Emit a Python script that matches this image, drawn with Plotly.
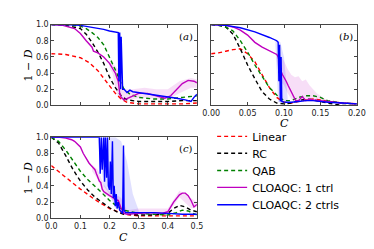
import plotly.graph_objects as go

# ---------------- panel (a) ----------------
a_x_lin = [0, 0.05, 0.1, 0.13, 0.16, 0.18, 0.2, 0.22, 0.24, 0.26, 0.3, 0.35, 0.4, 0.45, 0.5]
a_lin = [0.64, 0.63, 0.59, 0.53, 0.43, 0.34, 0.24, 0.15, 0.08, 0.04, 0.02, 0.02, 0.02, 0.02, 0.03]
a_x_rc = [0, 0.05, 0.1, 0.12, 0.14, 0.16, 0.18, 0.2, 0.22, 0.24, 0.26, 0.3, 0.35, 0.4, 0.45, 0.5]
a_rc = [1.0, 0.99, 0.95, 0.88, 0.78, 0.66, 0.52, 0.35, 0.22, 0.12, 0.07, 0.05, 0.05, 0.05, 0.06, 0.06]
a_x_qab = [0, 0.05, 0.1, 0.12, 0.14, 0.16, 0.18, 0.2, 0.22, 0.24, 0.25, 0.27, 0.3, 0.35, 0.4, 0.45, 0.5]
a_qab = [1.0, 1.0, 0.98, 0.95, 0.9, 0.84, 0.75, 0.6, 0.44, 0.27, 0.2, 0.14, 0.1, 0.08, 0.08, 0.1, 0.12]
a_x_c1 = [0, 0.04, 0.08, 0.1, 0.12, 0.14, 0.145, 0.16, 0.18, 0.2, 0.21, 0.22, 0.225, 0.23, 0.235, 0.24,
          0.25, 0.27, 0.3, 0.33, 0.36, 0.39, 0.41, 0.43, 0.45, 0.47, 0.49, 0.5]
a_c1 = [1.0, 0.99, 0.95, 0.89, 0.8, 0.72, 0.67, 0.65, 0.6, 0.52, 0.46, 0.4, 0.35, 0.3, 0.15, 0.1,
        0.07, 0.1, 0.15, 0.15, 0.12, 0.09, 0.12, 0.2, 0.27, 0.31, 0.3, 0.28]
a_x_c2 = [0, 0.05, 0.1, 0.15, 0.18, 0.2, 0.22, 0.23, 0.232, 0.235, 0.238, 0.24, 0.245, 0.25, 0.26, 0.27,
          0.28, 0.3, 0.33, 0.36, 0.4, 0.43, 0.46, 0.48, 0.49, 0.5]
a_c2 = [1.0, 1.0, 0.99, 0.96, 0.94, 0.92, 0.91, 0.9, 0.3, 0.9, 0.2, 0.85, 0.2, 0.2, 0.16, 0.19,
        0.17, 0.16, 0.14, 0.13, 0.11, 0.09, 0.07, 0.05, 0.1, 0.14]
a_x_b1 = [0.2, 0.21, 0.22, 0.23, 0.24, 0.25, 0.28, 0.32, 0.36, 0.4, 0.44, 0.48, 0.5]
a_b1_lo = [0.46, 0.4, 0.22, 0.1, 0.07, 0.06, 0.08, 0.1, 0.08, 0.07, 0.15, 0.22, 0.22]
a_b1_hi = [0.55, 0.52, 0.48, 0.45, 0.3, 0.2, 0.2, 0.22, 0.2, 0.2, 0.3, 0.34, 0.32]

# ---------------- panel (b) ----------------
b_x = [0, 0.01, 0.02, 0.03, 0.04, 0.05, 0.06, 0.07, 0.08, 0.09, 0.1, 0.11, 0.12, 0.13, 0.14, 0.15, 0.16, 0.18, 0.2]
b_lin = [0.64, 0.65, 0.67, 0.69, 0.70, 0.64, 0.54, 0.38, 0.22, 0.1, 0.04, 0.03, 0.05, 0.07, 0.08, 0.07, 0.05, 0.03, 0.02]
b_rc = [1.0, 0.99, 0.97, 0.88, 0.7, 0.5, 0.33, 0.17, 0.08, 0.03, 0.02, 0.03, 0.06, 0.08, 0.07, 0.05, 0.03, 0.0, 0.0]
b_qab = [1.0, 0.99, 0.97, 0.92, 0.8, 0.66, 0.5, 0.36, 0.22, 0.13, 0.06, 0.06, 0.1, 0.12, 0.12, 0.1, 0.06, 0.03, 0.02]
b_x_c1 = [0, 0.02, 0.03, 0.04, 0.05, 0.06, 0.07, 0.08, 0.09, 0.092, 0.094, 0.096, 0.098, 0.1, 0.103, 0.106,
          0.11, 0.113, 0.116, 0.12, 0.125, 0.13, 0.135, 0.14, 0.15, 0.16, 0.18, 0.2]
b_c1 = [1.0, 0.99, 0.97, 0.93, 0.87, 0.78, 0.72, 0.68, 0.63, 0.6, 0.5, 0.42, 0.38, 0.35, 0.3, 0.24,
        0.16, 0.1, 0.06, 0.06, 0.11, 0.06, 0.08, 0.07, 0.06, 0.05, 0.03, 0.02]
b_x_c2 = [0, 0.02, 0.04, 0.06, 0.08, 0.09, 0.092, 0.093, 0.094, 0.095, 0.096, 0.097, 0.1, 0.11, 0.12, 0.13,
          0.14, 0.15, 0.16, 0.18, 0.2]
b_c2 = [1.0, 0.99, 0.96, 0.91, 0.84, 0.8, 0.78, 0.3, 0.75, 0.05, 0.6, 0.05, 0.04, 0.04, 0.05, 0.06,
        0.06, 0.05, 0.04, 0.03, 0.02]
b_x_b1 = [0.09, 0.095, 0.1, 0.105, 0.11, 0.115, 0.12, 0.125, 0.13, 0.135, 0.14, 0.145, 0.15, 0.16]
b_b1_lo = [0.55, 0.3, 0.25, 0.15, 0.08, 0.05, 0.05, 0.05, 0.05, 0.05, 0.05, 0.04, 0.04, 0.03]
b_b1_hi = [0.65, 0.62, 0.55, 0.45, 0.38, 0.35, 0.36, 0.3, 0.32, 0.25, 0.2, 0.15, 0.12, 0.06]
b_x_b2 = [0.088, 0.092, 0.095, 0.1, 0.105]
b_b2_lo = [0.78, 0.04, 0.04, 0.03, 0.03]
b_b2_hi = [0.82, 0.8, 0.78, 0.6, 0.1]

# ---------------- panel (c) ----------------
c_x_lin = [0, 0.05, 0.1, 0.15, 0.2, 0.25, 0.3, 0.35, 0.4, 0.45, 0.5]
c_lin = [0.65, 0.5, 0.36, 0.23, 0.12, 0.05, 0.03, 0.03, 0.03, 0.03, 0.03]
c_x_rc = [0, 0.025, 0.05, 0.075, 0.1, 0.125, 0.15, 0.175, 0.2, 0.225, 0.25, 0.3, 0.35, 0.4, 0.42, 0.44, 0.46, 0.48, 0.5]
c_rc = [1.0, 0.93, 0.77, 0.6, 0.46, 0.35, 0.26, 0.19, 0.13, 0.08, 0.05, 0.04, 0.04, 0.06, 0.12, 0.16, 0.14, 0.1, 0.08]
c_x_qab = [0, 0.025, 0.05, 0.075, 0.1, 0.125, 0.15, 0.175, 0.2, 0.225, 0.25, 0.3, 0.35, 0.4, 0.43, 0.45, 0.47, 0.5]
c_qab = [1.0, 0.95, 0.84, 0.71, 0.58, 0.48, 0.4, 0.31, 0.22, 0.15, 0.1, 0.06, 0.05, 0.04, 0.07, 0.1, 0.09, 0.04]
c_x_c1 = [0, 0.03, 0.05, 0.07, 0.08, 0.09, 0.1, 0.11, 0.12, 0.13, 0.14, 0.15, 0.155, 0.16, 0.165, 0.17, 0.175,
          0.18, 0.19, 0.2, 0.21, 0.22, 0.23, 0.24, 0.25, 0.26, 0.3, 0.35, 0.38, 0.4, 0.42, 0.44, 0.45, 0.46,
          0.47, 0.48, 0.49, 0.5]
c_c1 = [1.0, 1.0, 0.99, 0.97, 0.95, 0.92, 0.88, 0.8, 0.74, 0.68, 0.64, 0.6, 0.55, 0.5, 0.46, 0.44, 0.36,
        0.33, 0.3, 0.28, 0.26, 0.23, 0.22, 0.12, 0.06, 0.05, 0.06, 0.07, 0.06, 0.08, 0.2, 0.29, 0.31, 0.31,
        0.28, 0.22, 0.14, 0.17]
c_x_c2 = [0, 0.05, 0.1, 0.15, 0.165, 0.168, 0.172, 0.175, 0.18, 0.183, 0.186, 0.19, 0.193, 0.196, 0.2, 0.203,
          0.206, 0.21, 0.213, 0.216, 0.22, 0.223, 0.226, 0.23, 0.235, 0.24, 0.245, 0.248, 0.25, 0.255, 0.26,
          0.3, 0.35, 0.4, 0.45, 0.5]
c_c2 = [1.0, 1.0, 1.0, 1.0, 1.0, 0.55, 1.0, 0.6, 1.0, 0.45, 1.0, 0.5, 1.0, 0.4, 0.35, 0.7,
        0.3, 0.95, 0.25, 0.4, 0.15, 0.3, 0.12, 0.2, 0.1, 0.08, 0.06, 0.9, 0.1, 0.07, 0.07,
        0.07, 0.07, 0.06, 0.05, 0.05]
c_x_b2 = [0.16, 0.18, 0.2, 0.22, 0.24, 0.26, 0.28, 0.3]
c_b2_lo = [0.95, 0.4, 0.3, 0.12, 0.08, 0.06, 0.06, 0.06]
c_b2_hi = [1.0, 1.0, 1.0, 1.0, 0.95, 0.7, 0.3, 0.1]
c_x_b1 = [0.14, 0.16, 0.18, 0.2, 0.22, 0.24, 0.26, 0.3, 0.35, 0.4, 0.44, 0.48, 0.5]
c_b1_lo = [0.58, 0.48, 0.3, 0.26, 0.2, 0.08, 0.04, 0.05, 0.05, 0.06, 0.26, 0.12, 0.14]
c_b1_hi = [0.66, 0.6, 0.42, 0.32, 0.3, 0.25, 0.1, 0.12, 0.12, 0.12, 0.34, 0.24, 0.2]

names = ["Linear", "RC", "QAB", "CLOAQC: 1 ctrl", "CLOAQC: 2 ctrls"]
colors = ["#ff0000", "#000000", "#008000", "#bf00bf", "#0000ff"]
dash = "4px,3px"

fig = go.Figure()


def band(x, lo, hi, col, xa, ya):
    fig.add_trace(go.Scatter(x=x, y=lo, mode="lines", line=dict(width=0), showlegend=False,
                             hoverinfo="skip", xaxis=xa, yaxis=ya))
    fig.add_trace(go.Scatter(x=x, y=hi, mode="lines", line=dict(width=0), fill="tonexty",
                             fillcolor=col, showlegend=False, hoverinfo="skip", xaxis=xa, yaxis=ya))


pink = "rgba(191,0,191,0.13)"
lblue = "rgba(0,0,255,0.12)"
band(a_x_b1, a_b1_lo, a_b1_hi, pink, "x", "y")
band(b_x_b1, b_b1_lo, b_b1_hi, pink, "x2", "y2")
band(b_x_b2, b_b2_lo, b_b2_hi, lblue, "x2", "y2")
band(c_x_b1, c_b1_lo, c_b1_hi, pink, "x3", "y3")
band(c_x_b2, c_b2_lo, c_b2_hi, lblue, "x3", "y3")

legend_ids = ["legend2", "legend3", "legend4", "legend5", "legend6"]
panels = [
    ("x", "y", [(a_x_lin, a_lin), (a_x_rc, a_rc), (a_x_qab, a_qab), (a_x_c1, a_c1), (a_x_c2, a_c2)]),
    ("x2", "y2", [(b_x, b_lin), (b_x, b_rc), (b_x, b_qab), (b_x_c1, b_c1), (b_x_c2, b_c2)]),
    ("x3", "y3", [(c_x_lin, c_lin), (c_x_rc, c_rc), (c_x_qab, c_qab), (c_x_c1, c_c1), (c_x_c2, c_c2)]),
]
for pi, (xa, ya, series) in enumerate(panels):
    for i, (xs, ys) in enumerate(series):
        fig.add_trace(go.Scatter(
            x=xs, y=ys, mode="lines", name=names[i],
            line=dict(color=colors[i], width=1.4, dash=dash if i < 3 else "solid"),
            showlegend=(pi == 2), legend=legend_ids[i], xaxis=xa, yaxis=ya))

W, H = 374, 249
def px(v): return v / W
def py(v): return 1 - v / H

axcommon = dict(showgrid=False, zeroline=False, showline=True, mirror="ticks", linecolor="#444",
                linewidth=1, ticks="inside", ticklen=3, tickcolor="#444",
                tickfont=dict(family="DejaVu Sans", size=8, color="#222"))
ycommon = dict(axcommon, range=[0, 1.0], tickvals=[0, 0.2, 0.4, 0.6, 0.8, 1.0],
               ticktext=["0.0", "0.2", "0.4", "0.6", "0.8", "1.0"])

legend_rows = [129, 146.5, 164.5, 182, 200]
legends = {}
for lid, ry in zip(legend_ids, legend_rows):
    legends[lid] = dict(x=px(205), y=py(ry), xanchor="left", yanchor="middle", bgcolor="rgba(0,0,0,0)",
                        font=dict(family="DejaVu Sans", size=11, color="#000"), itemwidth=30)

fig.update_layout(
    width=W, height=H, margin=dict(l=0, r=0, t=0, b=0),
    paper_bgcolor="white", plot_bgcolor="white",
    font=dict(family="DejaVu Sans", size=10, color="#000"),
    xaxis=dict(axcommon, domain=[px(36), px(189)], range=[0, 0.5], tickvals=[0.1, 0.2, 0.3, 0.4],
               showticklabels=False, anchor="y"),
    yaxis=dict(ycommon, domain=[py(97), py(13)], anchor="x"),
    xaxis2=dict(axcommon, domain=[px(204), px(357)], range=[0, 0.2],
                tickvals=[0, 0.05, 0.1, 0.15, 0.2], ticktext=["0.00", "0.05", "0.10", "0.15", "0.20"],
                anchor="y2"),
    yaxis2=dict(ycommon, domain=[py(97), py(13)], anchor="x2", showticklabels=False),
    xaxis3=dict(axcommon, domain=[px(36), px(189)], range=[0, 0.5],
                tickvals=[0, 0.1, 0.2, 0.3, 0.4, 0.5], ticktext=["0.0", "0.1", "0.2", "0.3", "0.4", "0.5"],
                anchor="y3"),
    yaxis3=dict(ycommon, domain=[py(214), py(130)], anchor="x3"),
    showlegend=True,
    **legends,
)

serif = "DejaVu Serif"
for txt, xr, yr in [("(<i>a</i>)", "x domain", "y domain"), ("(<i>b</i>)", "x2 domain", "y2 domain"),
                    ("(<i>c</i>)", "x3 domain", "y3 domain")]:
    fig.add_annotation(text=txt, xref=xr, yref=yr, x=0.99, y=0.95, xanchor="right", yanchor="top",
                       showarrow=False, font=dict(family=serif, size=10))

# axis titles
for txt, cx, cy, ang in [("1 − <i>D</i>", 12, 55, -90), ("1 − <i>D</i>", 12, 172, -90),
                         ("<i>C</i>", 281, 116, 0), ("<i>C</i>", 112, 234, 0)]:
    fig.add_annotation(text=txt, xref="paper", yref="paper", x=px(cx), y=py(cy), textangle=ang,
                       xanchor="center", yanchor="middle", showarrow=False,
                       font=dict(family=serif, size=11))

fig.write_html("out.html")
